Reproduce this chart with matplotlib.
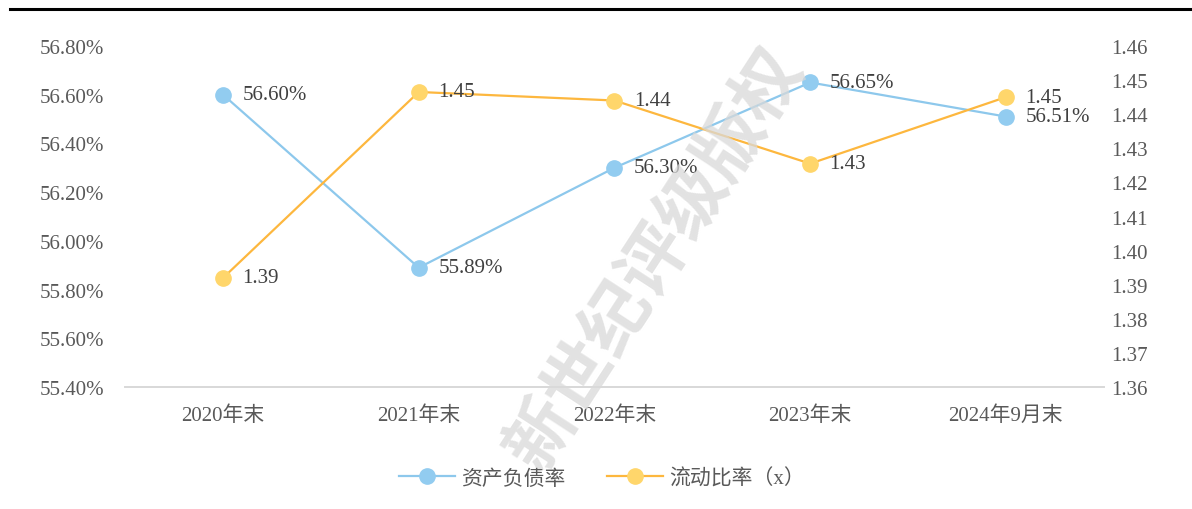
import matplotlib
matplotlib.use("Agg")
import matplotlib.pyplot as plt
import matplotlib.ticker as ticker
from matplotlib.lines import Line2D

plt.rcParams['font.family'] = ['Liberation Serif', 'Noto Sans CJK SC']

# 数据
categories = ['2020年末', '2021年末', '2022年末', '2023年末', '2024年9月末']
debt_ratio = [56.60, 55.89, 56.30, 56.65, 56.51]  # 资产负债率 (%)
current_ratio = [1.392, 1.4465, 1.444, 1.4255, 1.445]  # 流动比率 (x)
current_labels = ['1.39', '1.45', '1.44', '1.43', '1.45']

blue_line, blue_mk = '#8DC8EC', '#92CCF0'
orange_line, orange_mk = '#FDB73E', '#FFD66B'
text_color = '#595959'
fs = 15

fig = plt.figure(figsize=(11.92, 5.10), dpi=100)
ax = fig.add_axes([0.105, 0.239, 0.821, 0.669])
ax2 = ax.twinx()

x = list(range(len(categories)))

ax.plot(x, debt_ratio, color=blue_line, linewidth=1.6, marker='o',
        markersize=11, markerfacecolor=blue_mk, markeredgecolor=blue_mk, zorder=3)
ax2.plot(x, current_ratio, color=orange_line, linewidth=1.6, marker='o',
         markersize=11, markerfacecolor=orange_mk, markeredgecolor=orange_mk, zorder=3)

# 数据标签
for xi, v in zip(x, debt_ratio):
    ax.annotate(f'{v:.2f}%', (xi, v), xytext=(14, 0), textcoords='offset points',
                ha='left', va='center', fontsize=fs, color='#404040')
for xi, v, lab in zip(x, current_ratio, current_labels):
    ax2.annotate(lab, (xi, v), xytext=(14, 0), textcoords='offset points',
                 ha='left', va='center', fontsize=fs, color='#404040')

# 坐标轴
ax.set_xlim(-0.5, len(categories) - 0.5)
ax.set_ylim(55.40, 56.80)
ax2.set_ylim(1.36, 1.46)
ax.yaxis.set_major_locator(ticker.MultipleLocator(0.2))
ax2.yaxis.set_major_locator(ticker.MultipleLocator(0.01))
ax.yaxis.set_major_formatter(ticker.FuncFormatter(lambda v, p: f'{v:.2f}%'))
ax2.yaxis.set_major_formatter(ticker.FuncFormatter(lambda v, p: f'{v:.2f}'))
ax.set_xticks(x)
ax.set_xticklabels(categories)

for a in (ax, ax2):
    for s in ('top', 'left', 'right'):
        a.spines[s].set_visible(False)
    a.spines['bottom'].set_color('#D9D9D9')
    a.spines['bottom'].set_linewidth(1.3)
    a.tick_params(length=0, labelsize=fs, labelcolor=text_color)
ax.tick_params(axis='y', pad=15)
ax2.tick_params(axis='y', pad=5)
ax.tick_params(axis='x', pad=13)

# 图例
handles = [
    Line2D([], [], color=blue_line, linewidth=1.6, marker='o', markersize=11,
           markerfacecolor=blue_mk, markeredgecolor=blue_mk),
    Line2D([], [], color=orange_line, linewidth=1.6, marker='o', markersize=11,
           markerfacecolor=orange_mk, markeredgecolor=orange_mk),
]
fig.legend(handles, ['资产负债率', '流动比率（x）'], loc='center', bbox_to_anchor=(0.505, 0.06),
           ncol=2, frameon=False, fontsize=fs, labelcolor=text_color,
           handlelength=2.7, columnspacing=2.0, handletextpad=0.3)

# 顶部黑线
fig.add_artist(Line2D([0.008, 1.0], [0.98, 0.98], color='black', linewidth=2.2,
                      transform=fig.transFigure))

# 水印
fig.text(0.55, 0.49, '新世纪评级版权', fontsize=50, color='#D9D9D9', alpha=0.75,
         rotation=57, ha='center', va='center', family=['Noto Sans CJK SC'],
         fontweight='bold', zorder=0)

fig.savefig('out.png', dpi=100)
